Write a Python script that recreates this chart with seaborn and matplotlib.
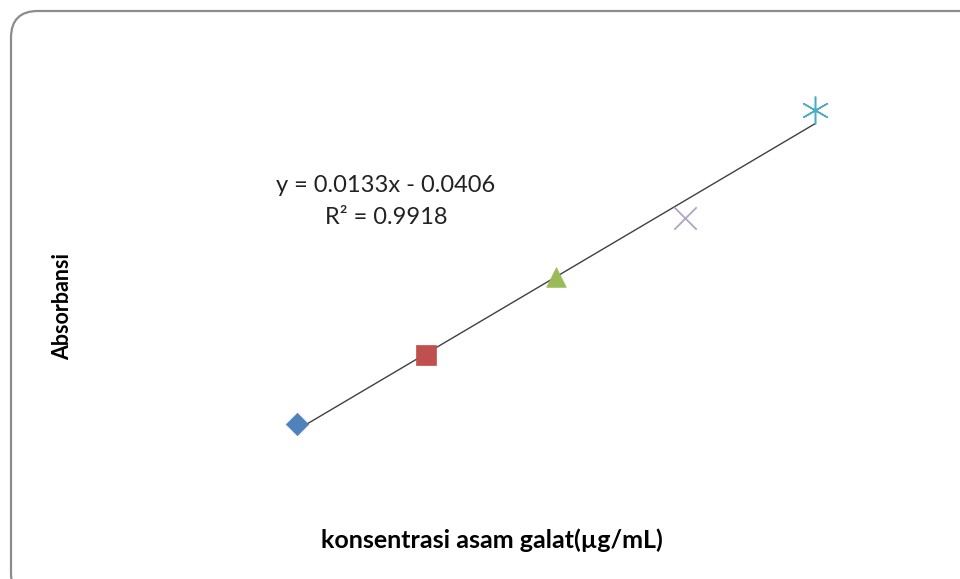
import numpy as np
import pandas as pd
import seaborn as sns
import matplotlib.pyplot as plt
from matplotlib.patches import FancyBboxPatch

# data kurva standar asam galat
konsentrasi = [10, 20, 30, 40, 50]
absorbansi = [0.099, 0.221, 0.358, 0.464, 0.654]
penanda = ['D', 's', '^', 'x', '*']
warna = ['#4F81BD', '#C0504D', '#9BBB59', '#B3A2C7', '#4BACC6']
persamaan = "y = 0.0133x - 0.0406"
r_kuadrat = "R² = 0.9918"

df = pd.DataFrame({'x': konsentrasi, 'y': absorbansi})

sns.set_theme(style='white')
plt.rcParams['font.family'] = ['Lato', 'DejaVu Sans']

W, H = 960, 579
fig = plt.figure(figsize=(W / 100, H / 100), dpi=100)
ax = fig.add_axes([167.5 / W, (H - 480) / H, 777 / W, 396 / H])

# garis tren
sns.regplot(data=df, x='x', y='y', scatter=False, ci=None, ax=ax,
            line_kws={'color': '#404040', 'lw': 1.0})

# titik data, satu penanda per titik
for xi, yi, m, c in zip(konsentrasi, absorbansi, penanda, warna):
    if m == 'x':
        sns.scatterplot(x=[xi], y=[yi], marker='x', s=260, color=c,
                        linewidth=1.3, ax=ax, zorder=3)
    elif m == '*':
        ax.plot([xi], [yi], marker=(6, 2, 0), ms=20, color=c, mew=1.1,
                linestyle='none', zorder=3)
    else:
        ukuran = {'D': 130, 's': 190, '^': 200}[m]
        sns.scatterplot(x=[xi], y=[yi], marker=m, s=ukuran, color=c,
                        edgecolor=c, linewidth=0.5, ax=ax, zorder=3)

ax.set_xlim(0, 60)
ax.set_ylim(0, 0.7)
ax.axis('off')

def px(x, y):
    return x / W, 1 - y / H

fig.text(*px(386, 186), persamaan, ha='center', va='center', fontsize=17, color='#222222')
fig.text(*px(386, 217), r_kuadrat, ha='center', va='center', fontsize=17, color='#222222')
fig.text(*px(492, 540), "konsentrasi asam galat(µg/mL)", ha='center', va='center',
         fontsize=18, fontweight='bold', color='black')
fig.text(*px(63, 307), "Absorbansi", ha='center', va='center', rotation=90,
         fontsize=15.5, fontweight='bold', color='black')

# bingkai bulat
kotak = FancyBboxPatch((11 / W, 1 - 600 / H), 980 / W, 589 / H,
                       boxstyle='round,pad=0,rounding_size=0.028',
                       transform=fig.transFigure, fill=False,
                       edgecolor='#8c8c8c', lw=1.6, mutation_aspect=W / H)
fig.patches.append(kotak)

fig.savefig('out.png', dpi=100)
